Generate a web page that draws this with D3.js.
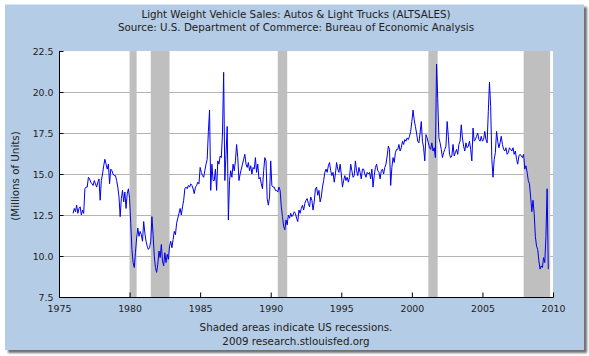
<!DOCTYPE html>
<html>
<head>
<meta charset="utf-8">
<script src="https://cdn.jsdelivr.net/npm/d3@7"></script>
<style>
  html, body { margin: 0; padding: 0; background: #ffffff; }
  svg { display: block; }
  text { font-family: "DejaVu Sans", Verdana, sans-serif; fill: #222; }
</style>
</head>
<body>
<svg id="chart" width="589" height="356"></svg>
<script>
// ---- Data (millions of units, SAAR), monthly, one row per year starting Jan 1976 ----
const firstYear = 1976;
const sales1976_1985 = [
  [12.6, 12.9, 12.7, 13.1, 12.6, 12.9, 13.0, 12.5, 12.8, 12.6, 14.1, 14.2], // 1976
  [14.2, 14.8, 14.7, 14.5, 14.4, 14.3, 14.6, 14.4, 14.2, 14.5, 14.7, 13.4], // 1977
  [14.6, 15.0, 15.5, 15.9, 15.6, 15.3, 15.6, 14.4, 15.3, 15.2, 15.0, 14.9], // 1978
  [14.9, 14.6, 14.2, 13.6, 12.4, 13.5, 14.0, 13.3, 13.9, 12.9, 13.8, 14.1], // 1979
  [13.5, 12.0, 10.4, 9.6, 9.3, 10.2, 11.1, 11.7, 11.2, 11.5, 11.3, 10.9],   // 1980
  [12.1, 11.4, 10.9, 10.6, 10.4, 10.5, 10.9, 12.4, 11.3, 10.0, 9.3, 9.0],   // 1981
  [9.5, 10.3, 9.9, 10.7, 9.7, 9.4, 10.2, 9.6, 10.1, 9.8, 10.6, 10.9],       // 1982
  [10.5, 11.0, 11.5, 11.3, 12.0, 12.3, 12.6, 12.9, 12.5, 13.0, 13.4, 14.1], // 1983
  [14.2, 14.1, 14.3, 14.2, 14.4, 14.3, 14.1, 13.8, 14.2, 14.3, 14.5, 14.4], // 1984
  [15.4, 15.1, 14.9, 14.8, 15.2, 15.6, 15.9, 17.6, 18.9, 14.0, 15.6, 14.6]  // 1985
];
const sales1986_1995 = [
  [14.6, 15.3, 14.0, 15.8, 15.6, 16.1, 16.0, 17.5, 21.2, 14.6, 16.2, 17.9], // 1986
  [12.2, 14.6, 15.2, 14.8, 15.6, 15.2, 15.8, 16.8, 16.0, 14.6, 15.0, 15.3], // 1987
  [15.6, 15.9, 16.2, 15.6, 15.4, 15.7, 15.2, 15.5, 15.0, 15.4, 15.3, 16.0], // 1988
  [15.1, 15.6, 14.7, 14.8, 14.4, 14.1, 15.2, 16.0, 15.8, 13.5, 13.1, 13.6], // 1989
  [15.8, 14.3, 14.2, 14.2, 14.0, 14.0, 13.9, 14.2, 14.0, 13.0, 12.4, 11.8], // 1990
  [11.6, 12.2, 11.9, 12.5, 12.3, 12.6, 12.4, 12.5, 12.7, 12.6, 12.3, 12.1], // 1991
  [12.8, 12.6, 12.9, 13.1, 12.8, 13.2, 13.4, 13.5, 13.2, 13.0, 13.6, 13.4], // 1992
  [12.8, 13.3, 14.1, 14.2, 13.7, 14.0, 13.3, 13.6, 14.2, 14.6, 15.1, 15.3], // 1993
  [15.1, 15.5, 15.7, 15.2, 14.9, 15.1, 14.5, 15.0, 15.7, 15.3, 15.1, 15.6], // 1994
  [15.0, 14.2, 14.6, 14.9, 14.6, 14.8, 14.5, 14.8, 15.6, 15.2, 14.8, 14.9]  // 1995
];
const sales1996_2009 = [
  [15.8, 15.2, 14.9, 15.4, 15.1, 14.7, 15.3, 15.3, 15.0, 14.8, 15.1, 15.0], // 1996
  [15.1, 14.7, 15.3, 14.2, 14.9, 15.4, 15.6, 15.2, 15.1, 14.7, 15.2, 15.3], // 1997
  [15.0, 15.4, 15.6, 16.1, 16.7, 16.5, 14.3, 15.4, 16.0, 15.7, 16.3, 16.5], // 1998
  [16.5, 16.8, 16.4, 16.6, 17.0, 16.8, 17.1, 17.0, 17.2, 17.1, 17.3, 17.6], // 1999
  [18.2, 18.9, 18.3, 17.9, 17.5, 17.0, 16.9, 17.5, 18.2, 17.0, 16.6, 15.8], // 2000
  [17.4, 17.2, 16.9, 16.6, 16.5, 16.9, 16.4, 16.6, 16.0, 21.7, 19.6, 17.2], // 2001
  [16.9, 16.5, 16.0, 16.3, 16.5, 16.7, 18.2, 17.3, 16.2, 16.0, 16.1, 16.8], // 2002
  [16.1, 16.3, 16.5, 16.2, 16.8, 17.0, 18.0, 17.2, 16.7, 16.4, 16.9, 16.6], // 2003
  [16.7, 17.0, 16.5, 15.8, 17.8, 17.0, 17.1, 17.3, 17.5, 17.1, 17.0, 17.3], // 2004
  [17.0, 17.1, 17.6, 17.1, 16.9, 18.8, 20.6, 19.1, 15.9, 14.8, 15.9, 16.3], // 2005
  [17.6, 17.0, 16.6, 16.9, 17.3, 16.8, 16.5, 16.4, 16.6, 16.2, 16.3, 16.6], // 2006
  [16.5, 16.4, 16.6, 16.2, 16.4, 15.9, 15.6, 16.1, 16.2, 16.1, 16.0, 16.2], // 2007
  [15.3, 15.5, 15.1, 14.6, 14.4, 13.6, 12.7, 13.4, 12.6, 11.2, 10.6, 10.4], // 2008
  [9.7, 9.2, 9.4, 9.3, 9.9, 9.6, 11.2, 14.1, 9.2]                           // 2009 (Jan-Sep)
];
// Recession periods (decimal years: start, end)
const recessionStarts = [1980.0, 1981.5, 1990.5, 2001.17, 2007.92];
const recessionEnds   = [1980.5, 1982.83, 1991.17, 2001.83, 2009.8];
const xTicks = [1975, 1980, 1985, 1990, 1995, 2000, 2005, 2010];
const yTicks = [7.5, 10.0, 12.5, 15.0, 17.5, 20.0, 22.5];
const titleLines = [
  "Light Weight Vehicle Sales: Autos & Light Trucks (ALTSALES)",
  "Source: U.S. Department of Commerce: Bureau of Economic Analysis"
];
const yLabel = "(Millions of Units)";
const footLines = [
  "Shaded areas indicate US recessions.",
  "2009 research.stlouisfed.org"
];

// ---- Build monthly series ----
const allYears = sales1976_1985.concat(sales1986_1995, sales1996_2009);
const series = [];
allYears.forEach((row, yi) => {
  row.forEach((v, m) => series.push({ t: firstYear + yi + m / 12, v: v }));
});

// ---- Layout ----
const svg = d3.select("#chart");
const W = 589, H = 356;
const plot = { left: 59, right: 553, top: 51, bottom: 297 };

const defs = svg.append("defs");
const f = defs.append("filter").attr("id", "shadow").attr("x", "-5%").attr("y", "-5%").attr("width", "110%").attr("height", "110%");
f.append("feGaussianBlur").attr("stdDeviation", 1.2);

// shadow + panel
svg.append("rect").attr("x", 8).attr("y", 7).attr("width", 579).attr("height", 346)
  .attr("fill", "#6f6f6f").attr("filter", "url(#shadow)");
svg.append("rect").attr("x", 5).attr("y", 4.5).attr("width", 579).attr("height", 345.5)
  .attr("fill", "#b4cce5");

const x = d3.scaleLinear().domain([1975, 2010]).range([plot.left, plot.right]);
const y = d3.scaleLinear().domain([7.5, 22.5]).range([plot.bottom, plot.top]);

// plot background
svg.append("rect").attr("x", plot.left).attr("y", plot.top)
  .attr("width", plot.right - plot.left).attr("height", plot.bottom - plot.top)
  .attr("fill", "#ffffff");

// grid lines
svg.append("g").selectAll("line").data(yTicks.filter(d => d > 7.5 && d < 22.5)).join("line")
  .attr("x1", plot.left).attr("x2", plot.right)
  .attr("y1", d => Math.round(y(d)) + 0.5).attr("y2", d => Math.round(y(d)) + 0.5)
  .attr("stroke", "#b4b4b4").attr("stroke-width", 1);

// recession bands
svg.append("g").selectAll("rect").data(recessionStarts).join("rect")
  .attr("x", (d) => x(d))
  .attr("y", plot.top)
  .attr("width", (d, i) => x(recessionEnds[i]) - x(d))
  .attr("height", plot.bottom - plot.top)
  .attr("fill", "#bfbfbf");

// data line
const line = d3.line().x(d => x(d.t)).y(d => y(d.v));
svg.append("path").datum(series)
  .attr("d", line).attr("fill", "none")
  .attr("stroke", "#0000ee").attr("stroke-width", 1).attr("stroke-linejoin", "round");

// axes
const xAxis = d3.axisBottom(x).tickValues(xTicks).tickFormat(d3.format("d")).tickSize(-5).tickPadding(8);
const gx = svg.append("g").attr("transform", `translate(0,${plot.bottom + 0.5})`).call(xAxis);
gx.select(".domain").attr("stroke", "#000").attr("d", `M${plot.left},0H${plot.right + 0.5}`);
gx.selectAll(".tick line").attr("stroke", "#000");
gx.selectAll(".tick text").attr("font-size", "9.4px").attr("fill", "#222")
  .attr("font-family", "DejaVu Sans, sans-serif");

const yAxis = d3.axisLeft(y).tickValues(yTicks).tickFormat(d3.format(".1f")).tickSize(-4).tickPadding(6);
const gy = svg.append("g").attr("transform", `translate(${plot.left + 0.5},0)`).call(yAxis);
gy.select(".domain").attr("stroke", "#000").attr("d", `M0,${plot.top}V${plot.bottom + 0.5}`);
gy.selectAll(".tick line").attr("stroke", "#000");
gy.selectAll(".tick text").attr("font-size", "9.4px").attr("fill", "#222")
  .attr("font-family", "DejaVu Sans, sans-serif");

// titles
const cx = 296;
svg.append("text").attr("x", cx).attr("y", 18).attr("text-anchor", "middle")
  .attr("font-size", "10.3px").text(titleLines[0]);
svg.append("text").attr("x", cx).attr("y", 30.5).attr("text-anchor", "middle")
  .attr("font-size", "10.3px").text(titleLines[1]);

// y label
svg.append("text").attr("transform", `translate(19,176) rotate(-90)`).attr("text-anchor", "middle")
  .attr("font-size", "10.3px").text(yLabel);

// footer
svg.append("text").attr("x", cx).attr("y", 331).attr("text-anchor", "middle")
  .attr("font-size", "10.3px").text(footLines[0]);
svg.append("text").attr("x", cx).attr("y", 345).attr("text-anchor", "middle")
  .attr("font-size", "10.3px").text(footLines[1]);
</script>
</body>
</html>
